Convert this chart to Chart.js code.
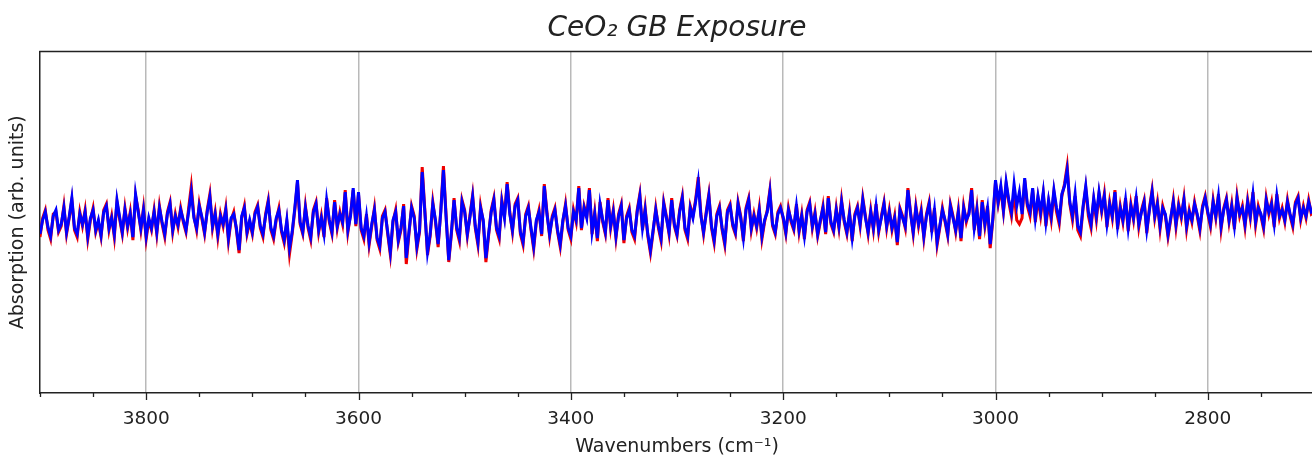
<!DOCTYPE html>
<html>
<head>
<meta charset="utf-8">
<script src="https://cdn.jsdelivr.net/npm/chart.js@4/dist/chart.umd.min.js"></script>
<style>
  html, body { margin: 0; padding: 0; background: #fff; overflow: hidden; }
  #wrap { width: 1322px; height: 461px; }
</style>
</head>
<body>
<div id="wrap"><canvas id="c" width="1322" height="461"></canvas></div>
<script>
// ---- data: wavenumber sampling grid 3900 -> 2700 cm^-1, every 2.5 cm^-1 ----
const WN_START = 3900;
const WN_STEP = 2.5;

// Blue spectrum (arb. units), 40 points per 100 cm^-1
const blueAbs = [
 // 3900 - 3802.5
 -0.12,0.02,0.10,-0.05,-0.14,0.06,0.12,-0.08,-0.02,0.14, -0.10,0.05,0.24,-0.06,-0.12,0.08,-0.02,0.10,-0.14,0.04,
 0.12,-0.08,0.02,-0.13,0.10,0.16,-0.06,0.04,-0.12,0.22, 0.05,-0.10,0.12,-0.04,0.08,-0.15,0.28,0.10,-0.06,0.12,
 // 3800 - 3702.5
 -0.14,0.04,-0.06,0.10,-0.10,0.14,0.00,-0.12,0.08,0.18, -0.08,0.06,-0.03,0.12,0.02,-0.08,0.10,0.30,0.04,-0.06,
 0.16,0.05,-0.10,0.10,0.25,-0.04,0.08,-0.12,0.06,-0.02, 0.12,-0.16,0.04,0.08,-0.06,-0.28,0.06,0.14,-0.10,0.02,
 // 3700 - 3602.5
 -0.10,0.08,0.15,-0.04,-0.12,0.06,0.20,-0.06,-0.14,0.04, 0.12,-0.08,-0.18,0.02,-0.26,-0.10,0.14,0.42,0.00,-0.10,
 0.14,-0.04,-0.15,0.10,0.18,-0.08,0.04,-0.12,0.22,0.02, -0.10,0.20,-0.04,0.08,0.00,0.30,-0.08,0.06,0.34,-0.02,
 // 3600 - 3502.5
 0.30,-0.06,-0.14,0.06,-0.20,-0.02,0.12,-0.16,-0.24,0.04, 0.10,-0.10,-0.30,0.02,0.10,-0.18,-0.06,0.16,-0.36,-0.10,
 0.14,0.04,-0.24,-0.08,0.50,0.10,-0.30,-0.12,0.18,0.02, -0.22,0.10,0.52,0.05,-0.38,-0.10,0.22,-0.06,-0.16,0.20,
 // 3500 - 3402.5
 0.10,-0.12,0.05,0.25,-0.04,-0.20,0.14,0.02,-0.36,-0.12, 0.10,0.22,-0.06,-0.14,0.20,0.04,0.38,0.08,-0.08,0.16,
 0.22,-0.10,-0.20,0.06,0.14,-0.06,-0.24,0.02,0.10,-0.12, 0.36,0.08,-0.12,0.04,0.12,-0.08,-0.22,0.02,0.16,-0.06,
 // 3400 - 3302.5
 -0.14,0.10,0.02,0.34,-0.06,0.14,0.04,0.32,-0.10,0.08, -0.16,0.18,0.02,-0.10,0.22,-0.04,0.10,-0.14,0.06,0.16,
 -0.18,0.04,0.12,-0.08,-0.14,0.10,0.26,-0.06,0.12,-0.12, -0.28,-0.08,0.12,-0.04,-0.16,0.18,0.04,-0.10,0.22,-0.02,
 // 3300 - 3202.5
 -0.12,0.10,0.24,-0.06,-0.14,0.14,0.04,0.20,0.40,0.06, -0.10,0.08,0.26,-0.04,-0.18,0.06,0.14,-0.06,-0.20,0.10,
 0.16,-0.02,-0.10,0.18,0.04,-0.16,0.12,0.22,-0.06,0.06, -0.04,0.12,-0.14,0.02,0.10,0.30,-0.02,-0.10,0.08,0.14,
 // 3200 - 3102.5
 0.05,-0.10,0.12,0.02,-0.06,0.16,-0.08,0.06,-0.14,0.10, 0.18,-0.04,0.08,-0.12,0.02,0.14,-0.10,0.24,0.00,-0.08,
 0.12,-0.04,0.20,0.02,-0.10,0.08,-0.16,0.06,0.14,-0.02, 0.22,0.04,-0.10,0.10,-0.06,0.16,-0.08,0.04,0.18,-0.04,
 // 3100 - 3002.5
 0.10,-0.06,0.04,-0.20,0.12,0.04,-0.04,0.32,0.08,-0.10, 0.14,-0.02,0.10,-0.14,0.06,0.18,-0.08,0.12,-0.20,-0.04,
 0.12,0.02,-0.12,0.16,0.04,-0.08,0.10,-0.16,0.14,0.02, 0.08,0.32,-0.06,0.12,-0.14,0.20,-0.02,0.14,-0.22,0.04,
 // 3000 - 2902.5
 0.42,0.20,0.36,0.12,0.40,0.22,0.10,0.38,0.16,0.30, 0.08,0.44,0.18,0.10,0.34,0.04,0.26,0.10,0.30,0.00,
 0.22,0.06,0.32,0.14,0.02,0.28,0.36,0.52,0.20,0.06, 0.28,-0.04,-0.10,0.16,0.36,0.10,-0.02,0.24,0.06,0.30,
 // 2900 - 2802.5
 0.12,0.26,-0.02,0.18,0.06,0.30,-0.04,0.14,0.02,0.22, -0.06,0.16,0.04,0.24,-0.02,0.10,0.20,-0.08,0.12,0.30,
 0.06,0.18,-0.04,0.14,0.08,-0.12,0.04,0.20,-0.02,0.16, 0.06,0.22,-0.04,0.10,0.02,0.18,0.08,-0.06,0.14,0.24,
 // 2800 - 2700
 0.10,-0.02,0.20,0.06,0.26,-0.04,0.12,0.22,0.02,0.16, -0.04,0.24,0.08,0.14,-0.02,0.20,0.06,0.28,0.00,0.14,
 0.08,-0.04,0.22,0.10,0.18,-0.02,0.26,0.06,0.12,0.02, 0.20,0.08,-0.02,0.18,0.24,0.04,0.14,0.06,0.20,0.10,
 0.12
];

// Red spectrum (arb. units)
const redAbs = [
 // 3900 - 3802.5
 -0.15,0.04,0.12,-0.08,-0.17,0.08,0.10,-0.10,-0.04,0.16, -0.12,0.04,0.22,-0.08,-0.15,0.10,-0.04,0.12,-0.17,0.02,
 0.14,-0.10,0.00,-0.15,0.12,0.18,-0.08,0.06,-0.15,0.20, 0.03,-0.12,0.14,-0.06,0.10,-0.18,0.26,0.12,-0.08,0.14,
 // 3800 - 3702.5
 -0.17,0.02,-0.08,0.12,-0.12,0.16,-0.02,-0.15,0.10,0.20, -0.10,0.08,-0.05,0.14,0.00,-0.10,0.14,0.36,0.06,-0.08,
 0.18,0.03,-0.12,0.12,0.28,-0.06,0.10,-0.15,0.08,-0.04, 0.14,-0.19,0.02,0.10,-0.08,-0.31,0.04,0.16,-0.12,0.00,
 // 3700 - 3602.5
 -0.12,0.10,0.17,-0.06,-0.15,0.08,0.22,-0.08,-0.17,0.02, 0.14,-0.10,-0.21,0.00,-0.32,-0.12,0.12,0.40,-0.02,-0.12,
 0.16,-0.06,-0.18,0.12,0.20,-0.10,0.06,-0.15,0.24,0.00, -0.12,0.22,-0.06,0.10,-0.02,0.32,-0.10,0.08,0.32,-0.04,
 // 3600 - 3502.5
 0.28,-0.08,-0.17,0.08,-0.23,-0.04,0.14,-0.18,-0.27,0.06, 0.12,-0.12,-0.33,0.00,0.12,-0.20,-0.08,0.18,-0.42,-0.12,
 0.16,0.06,-0.27,-0.10,0.55,0.12,-0.33,-0.14,0.20,0.00, -0.25,0.12,0.56,0.07,-0.40,-0.12,0.24,-0.08,-0.19,0.22,
 // 3500 - 3402.5
 0.12,-0.14,0.07,0.27,-0.06,-0.23,0.16,0.00,-0.40,-0.14, 0.12,0.24,-0.08,-0.17,0.22,0.06,0.40,0.10,-0.10,0.18,
 0.24,-0.12,-0.23,0.08,0.16,-0.08,-0.27,0.00,0.12,-0.14, 0.38,0.10,-0.14,0.06,0.14,-0.10,-0.25,0.00,0.18,-0.08,
 // 3400 - 3302.5
 -0.17,0.12,0.00,0.36,-0.08,0.16,0.06,0.34,-0.12,0.10, -0.19,0.20,0.00,-0.12,0.24,-0.06,0.12,-0.16,0.08,0.18,
 -0.21,0.06,0.14,-0.10,-0.17,0.12,0.28,-0.08,0.14,-0.14, -0.31,-0.10,0.14,-0.06,-0.19,0.20,0.06,-0.12,0.24,-0.04,
 // 3300 - 3202.5
 -0.14,0.12,0.26,-0.08,-0.17,0.16,0.06,0.22,0.45,0.08, -0.12,0.10,0.28,-0.06,-0.21,0.08,0.16,-0.08,-0.23,0.12,
 0.18,-0.04,-0.12,0.20,0.06,-0.19,0.14,0.24,-0.08,0.08, -0.06,0.14,-0.17,0.00,0.12,0.32,-0.04,-0.12,0.10,0.16,
 // 3200 - 3102.5
 0.03,-0.12,0.14,0.00,-0.08,0.18,-0.10,0.08,-0.17,0.12, 0.20,-0.06,0.10,-0.14,0.00,0.16,-0.12,0.26,-0.02,-0.10,
 0.14,-0.06,0.22,0.00,-0.12,0.10,-0.19,0.08,0.16,-0.04, 0.24,0.06,-0.12,0.12,-0.08,0.18,-0.10,0.06,0.20,-0.06,
 // 3100 - 3002.5
 0.12,-0.08,0.06,-0.23,0.14,0.06,-0.06,0.34,0.10,-0.12, 0.16,-0.04,0.12,-0.16,0.08,0.20,-0.10,0.14,-0.23,-0.06,
 0.14,0.00,-0.14,0.18,0.06,-0.10,0.12,-0.19,0.16,0.00, 0.10,0.34,-0.08,0.14,-0.17,0.22,-0.04,0.16,-0.26,0.02,
 // 3000 - 2902.5
 0.40,0.18,0.34,0.10,0.38,0.20,0.06,0.30,0.02,-0.02, 0.04,0.42,0.16,0.06,0.32,0.00,0.24,0.06,0.28,-0.04,
 0.20,0.02,0.30,0.10,-0.02,0.26,0.38,0.56,0.18,0.02, 0.26,-0.08,-0.14,0.14,0.34,0.06,-0.06,0.22,0.02,0.28,
 // 2900 - 2802.5
 0.10,0.28,-0.05,0.20,0.04,0.32,-0.07,0.16,0.00,0.24, -0.09,0.18,0.02,0.26,-0.05,0.12,0.22,-0.11,0.14,0.32,
 0.04,0.20,-0.07,0.16,0.06,-0.15,0.02,0.22,-0.05,0.18, 0.04,0.24,-0.07,0.12,0.00,0.20,0.06,-0.09,0.16,0.26,
 // 2800 - 2700
 0.08,-0.05,0.22,0.04,0.28,-0.07,0.14,0.24,0.00,0.18, -0.07,0.26,0.06,0.16,-0.05,0.22,0.04,0.30,-0.03,0.16,
 0.06,-0.07,0.24,0.08,0.20,-0.05,0.28,0.04,0.14,0.00, 0.22,0.06,-0.05,0.20,0.26,0.02,0.16,0.04,0.22,0.08,
 0.10
];

const wavenumbers = blueAbs.map((_, i) => WN_START - WN_STEP * i);

// axis limits and tick labels
const X_MIN = 2700, X_MAX = 3900;
const X_MINOR_STEP = 50, X_MAJOR_STEP = 200;
const Y_MIN = -1.71, Y_MAX = 1.705;

const TITLE = 'CeO\u2082 GB Exposure';
const X_TITLE = 'Wavenumbers (cm\u207B\u00B9)';
const Y_TITLE = 'Absorption (arb. units)';

// ---- styles ----
const FONT = "'DejaVu Sans', 'Liberation Sans', sans-serif";
const TEXT = '#222222';
const AXIS = '#222222';
const GRID = '#b9b9b9';

const toPoints = arr => arr.map((v, i) => ({ x: wavenumbers[i], y: v }));

const axisDecor = {
  id: 'axisDecor',
  afterDraw(chart) {
    const { ctx, chartArea: { left, right, top, bottom }, scales: { x } } = chart;
    ctx.save();
    ctx.strokeStyle = AXIS;
    ctx.lineWidth = 1.5;
    ctx.beginPath();
    ctx.moveTo(left - 0.75, top);
    ctx.lineTo(right, top);
    ctx.stroke();
    ctx.beginPath();
    x.ticks.forEach(t => {
      const px = Math.round(x.getPixelForValue(t.value)) + 0.5;
      const major = t.value % X_MAJOR_STEP === 0;
      ctx.moveTo(px, bottom);
      ctx.lineTo(px, bottom + (major ? 7 : 4));
    });
    ctx.lineWidth = 1.3;
    ctx.stroke();
    ctx.restore();
  }
};

new Chart(document.getElementById('c'), {
  type: 'line',
  data: {
    datasets: [
      { label: 'blue', data: toPoints(blueAbs), borderColor: '#0000ff', borderWidth: 3, pointRadius: 0, tension: 0, fill: false },
      { label: 'red', data: toPoints(redAbs), borderColor: '#ee0000', borderWidth: 3, pointRadius: 0, tension: 0, fill: false }
    ]
  },
  options: {
    responsive: false,
    animation: false,
    devicePixelRatio: 1,
    layout: { padding: { left: 0, right: 1.5, top: 0, bottom: 0 } },
    plugins: {
      legend: { display: false },
      tooltip: { enabled: false },
      title: {
        display: true,
        text: TITLE,
        fullSize: false,
        color: TEXT,
        font: { family: FONT, size: 28, style: 'italic', weight: 'normal' },
        padding: { top: 12, bottom: 6 }
      }
    },
    scales: {
      x: {
        type: 'linear',
        reverse: true,
        min: X_MIN,
        max: X_MAX,
        afterFit: s => { s.height = 68; },
        ticks: {
          stepSize: X_MINOR_STEP,
          autoSkip: false,
          maxRotation: 0,
          color: TEXT,
          padding: 8,
          font: { family: FONT, size: 18.5 },
          callback: v => (v % X_MAJOR_STEP === 0 ? String(v) : '')
        },
        grid: {
          color: c => (c.tick && c.tick.value % X_MAJOR_STEP === 0 ? GRID : 'rgba(0,0,0,0)'),
          lineWidth: 1.5,
          drawTicks: true,
          tickLength: 7,
          tickColor: 'rgba(0,0,0,0)'
        },
        border: { display: true, color: AXIS, width: 1.5 },
        title: {
          display: true,
          text: X_TITLE,
          color: TEXT,
          font: { family: FONT, size: 19 },
          padding: { top: 0, bottom: 3 }
        }
      },
      y: {
        type: 'linear',
        min: Y_MIN,
        max: Y_MAX,
        afterFit: s => { s.width = 40; },
        ticks: { display: false },
        grid: { display: true, color: 'rgba(0,0,0,0)', drawTicks: false },
        border: { display: true, color: AXIS, width: 1.5 },
        title: {
          display: true,
          text: Y_TITLE,
          color: TEXT,
          font: { family: FONT, size: 19 },
          padding: { top: 7, bottom: 0 }
        }
      }
    }
  },
  plugins: [axisDecor]
});
</script>
</body>
</html>
